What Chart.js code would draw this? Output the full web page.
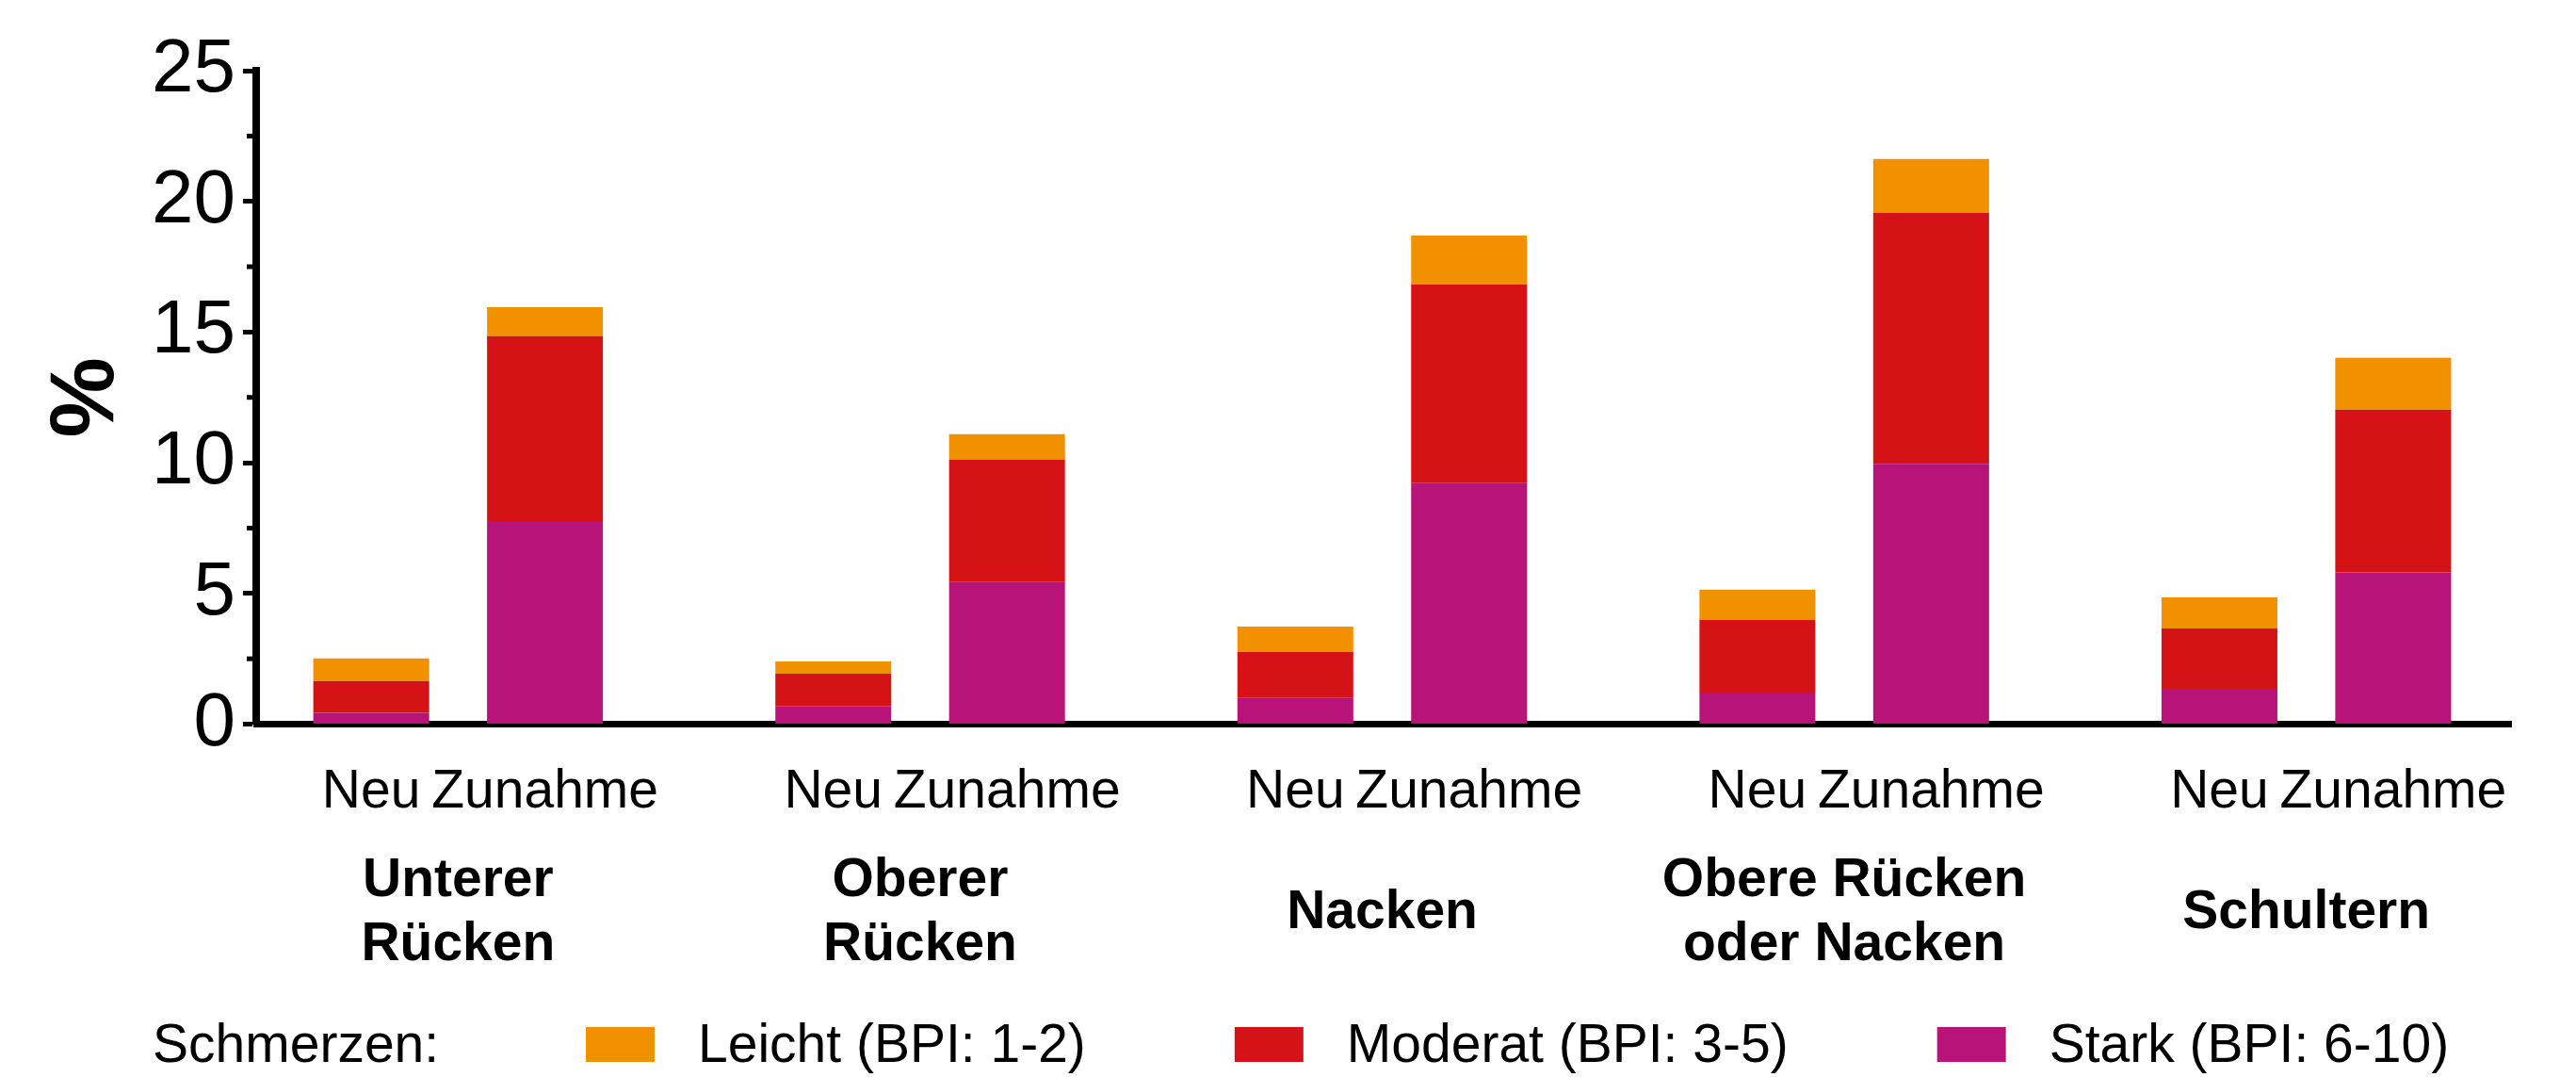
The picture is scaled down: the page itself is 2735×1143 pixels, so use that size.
<!DOCTYPE html>
<html lang="de">
<head>
<meta charset="utf-8">
<title>Schmerzen</title>
<script src="https://cdn.jsdelivr.net/npm/chart.js@4.4.1/dist/chart.umd.min.js"></script>
<style>
  html,body{margin:0;padding:0;background:#fff;}
  #wrap{width:2735px;height:1143px;}
</style>
</head>
<body>
<div id="wrap"><canvas id="chart" width="2735" height="1143"></canvas></div>
<script>
(function(){
  "use strict";
  // Körperregionen (Gruppen) und Balken je Gruppe
  const GROUPS=[["Unterer","Rücken"],["Oberer","Rücken"],["Nacken"],["Obere Rücken","oder Nacken"],["Schultern"]];
  const BARS=["Neu","Zunahme"];
  const LEVELS=["Leicht (BPI: 1-2)","Moderat (BPI: 3-5)","Stark (BPI: 6-10)"];
  const COLORS=["#F29100","#D51317","#B81378"];

  // Werte in %, je Schmerzstufe
  const LEICHT_NEU=[0.86,0.47,0.97,1.16,1.19];
  const MODERAT_NEU=[1.22,1.24,1.76,2.82,2.31];
  const STARK_NEU=[0.43,0.69,1.00,1.17,1.35];
  const LEICHT_ZUN=[1.11,0.97,1.87,2.06,1.98];
  const MODERAT_ZUN=[7.07,4.69,7.60,9.60,6.23];
  const STARK_ZUN=[7.77,5.43,9.22,9.96,5.80];

  const Y_TICKS=[0,5,10,15,20,25];
  const Y_MINOR=[2.5,7.5,12.5,17.5,22.5];

  const FONT='"Liberation Sans", Arial, Helvetica, sans-serif';

  function pts(arr){return arr.map((v,i)=>({x:i,y:v}));}
  function ds(label,vals,color,stack){
    return {label:label,data:pts(vals),backgroundColor:color,borderWidth:0,stack:stack};
  }

  const datasets=[
    ds(LEVELS[2],STARK_NEU,COLORS[2],"neu"),
    ds(LEVELS[1],MODERAT_NEU,COLORS[1],"neu"),
    ds(LEVELS[0],LEICHT_NEU,COLORS[0],"neu"),
    ds(LEVELS[2],STARK_ZUN,COLORS[2],"zun"),
    ds(LEVELS[1],MODERAT_ZUN,COLORS[1],"zun"),
    ds(LEVELS[0],LEICHT_ZUN,COLORS[0],"zun")
  ];

  // Beschriftungen unter der Achse, kleine Zwischenstriche, Legende
  const labelPlugin={
    id:"labels",
    afterDraw(chart){
      const ctx=chart.ctx, y=chart.scales.y, a=chart.chartArea;
      ctx.save();
      ctx.strokeStyle="#000"; ctx.lineWidth=5;
      Y_MINOR.forEach(v=>{
        const py=y.getPixelForValue(v);
        ctx.beginPath(); ctx.moveTo(a.left-10,py); ctx.lineTo(a.left,py); ctx.stroke();
      });

      const neu=chart.getDatasetMeta(0), zun=chart.getDatasetMeta(3);
      ctx.fillStyle="#000"; ctx.textAlign="center"; ctx.textBaseline="alphabetic";
      GROUPS.forEach((g,i)=>{
        const xn=neu.data[i].x, xz=zun.data[i].x;
        ctx.font="57px "+FONT;
        ctx.fillText(BARS[0],xn,857);
        ctx.fillText(BARS[1],xz,857);
        ctx.font="bold 57px "+FONT;
        g.forEach((line,k)=>ctx.fillText(line,(xn+xz)/2,985+(k-(g.length-1)/2)*68));
      });

      ctx.font="57px "+FONT; ctx.textAlign="left";
      ctx.fillText("Schmerzen:",162,1127);
      let x=622;
      LEVELS.forEach((t,i)=>{
        ctx.fillStyle=COLORS[i]; ctx.fillRect(x,1090,73,37);
        ctx.fillStyle="#000"; ctx.fillText(t,x+119,1127);
        x+=119+ctx.measureText(t).width+158;
      });
      ctx.restore();
    }
  };

  new Chart(document.getElementById("chart"),{
    type:"bar",
    data:{datasets:datasets},
    plugins:[labelPlugin],
    options:{
      responsive:false,animation:false,devicePixelRatio:1,
      layout:{padding:{left:0,top:75,right:69,bottom:0}},
      categoryPercentage:0.752,barPercentage:0.667,
      plugins:{legend:{display:false},tooltip:{enabled:false}},
      scales:{
        x:{
          type:"linear",stacked:true,offset:false,min:-0.437,max:4.443,
          grid:{display:false,offset:false},
          border:{display:true,color:"#000",width:7},
          ticks:{display:false},
          afterBuildTicks(s){s.ticks=GROUPS.map((g,i)=>({value:i}));},
          afterFit(s){s.height=374.5;}
        },
        y:{
          stacked:true,min:0,max:25,
          afterBuildTicks(s){s.ticks=Y_TICKS.map(v=>({value:v}));},
          afterFit(s){s.width=272;},
          grid:{display:true,drawOnChartArea:false,drawTicks:true,tickLength:14,tickWidth:5,tickColor:"#000"},
          border:{display:true,color:"#000",width:8},
          ticks:{color:"#000",padding:8,font:{family:FONT,size:80}},
          title:{display:true,text:"%",color:"#000",padding:{top:36,bottom:0},font:{family:FONT,size:96,weight:"bold"}}
        }
      }
    }
  });
})();
</script>
</body>
</html>
